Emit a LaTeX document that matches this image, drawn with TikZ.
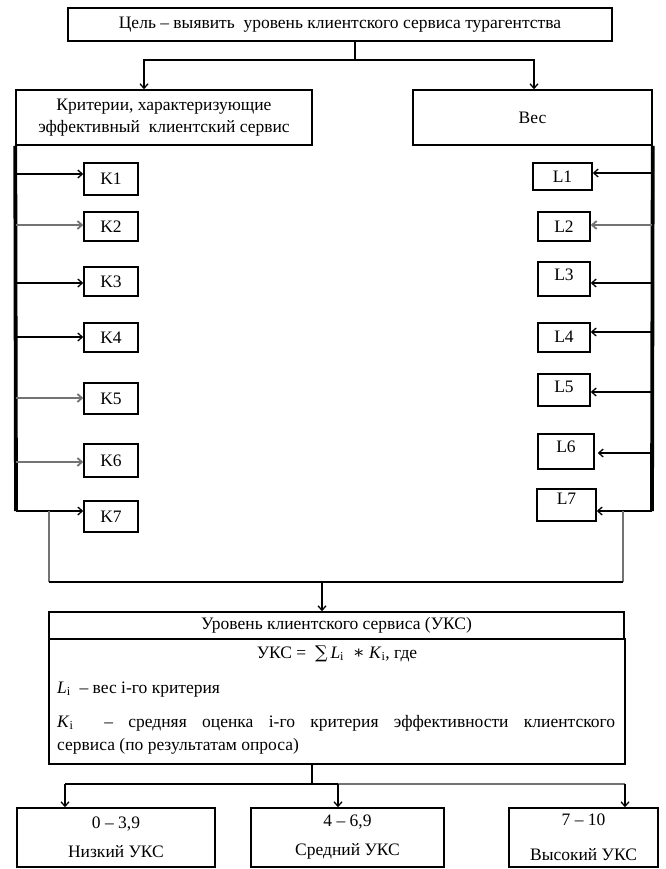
\documentclass[tikz,border=0pt]{standalone}
\usepackage{fontspec}
\setmainfont{Liberation Serif}
\newfontfamily\symf{DejaVu Serif}
\usetikzlibrary{arrows.meta}
\begin{document}
\begin{tikzpicture}[x=1pt,y=-1pt,
  font=\fontsize{17.5}{21}\selectfont,
  bx/.style={draw, line width=1.5pt, inner sep=0pt, align=center},
  sbx/.style={bx, text height=11.6pt, text depth=#1},
  sbx/.default=0pt,
  ln/.style={line width=1.3pt},
  gln/.style={line width=1.8pt, draw=black!55},
  arr/.style={ln, -{Straight Barb[length=4.5pt,width=8pt]}},
  garr/.style={gln, -{Straight Barb[length=4.5pt,width=8pt]}},
  thk/.style={line width=3.8pt}]
\useasboundingbox (0,0) rectangle (665,869);

% top
\node[bx, minimum width=544, minimum height=33] (goal) at (340,24.5) {Цель – выявить\ \ уровень клиентского сервиса турагентства};
\node[bx, minimum width=296, minimum height=55, font=\fontsize{17.5}{22}\selectfont] (crit) at (164,117.5) {Критерии, характеризующие\\эффективный\ \ клиентский сервис};
\node[bx, minimum width=239, minimum height=55] (wt) at (532.5,117.5) {Вес};

\coordinate (split) at (355,60);
\draw[ln] (goal.south -| split) -- (split);
\draw[arr] (split) -| ([xshift=-20pt]crit.north);
\draw[arr] (split) -| ([xshift=1.5pt]wt.north);

% thick rails
\coordinate (lbot) at (16,511);
\coordinate (rbot) at (652,511);
\draw[thk] (crit.south west) -- (lbot);
\draw[thk] (wt.south east) -- (rbot);

% K boxes
\node[sbx, minimum width=54, minimum height=32] (k1) at (111,179) {K1};
\node[sbx, minimum width=54, minimum height=29] (k2) at (111,226.5) {K2};
\node[sbx, minimum width=54, minimum height=29] (k3) at (111,281.5) {K3};
\node[sbx, minimum width=54, minimum height=29] (k4) at (111,337.5) {K4};
\node[sbx, minimum width=54, minimum height=31] (k5) at (111,398.5) {K5};
\node[sbx, minimum width=54, minimum height=33] (k6) at (111,460.5) {K6};
\node[sbx, minimum width=54, minimum height=31] (k7) at (111,516.5) {K7};

\coordinate (ka1) at (16,174);
\coordinate (ka2) at (16,225);
\coordinate (ka3) at (16,283);
\coordinate (ka4) at (16,337);
\coordinate (ka5) at (16,398);
\coordinate (ka6) at (16,462);
\draw[arr] (ka1) -- (ka1 -| k1.west);
\draw[garr] (ka2) -- (ka2 -| k2.west);
\draw[arr] (ka3) -- (ka3 -| k3.west);
\draw[arr] (ka4) -- (ka4 -| k4.west);
\draw[garr] (ka5) -- (ka5 -| k5.west);
\draw[garr] (ka6) -- (ka6 -| k6.west);
\draw[arr] (lbot) -- (lbot -| k7.west);

% L boxes
\node[sbx, minimum width=59, minimum height=27] (l1) at (562.5,176.5) {L1};
\node[sbx, minimum width=52, minimum height=29] (l2) at (564,226.5) {L2};
\node[sbx=8pt, minimum width=52, minimum height=34] (l3) at (564,279) {L3};
\node[sbx=2pt, minimum width=52, minimum height=29] (l4) at (564,337.5) {L4};
\node[sbx=6pt, minimum width=52, minimum height=32] (l5) at (564,390) {L5};
\node[sbx=9pt, minimum width=56, minimum height=35] (l6) at (566,451.5) {L6};
\node[sbx=12pt, minimum width=59, minimum height=32] (l7) at (566.5,505) {L7};

\coordinate (la1) at (652,173);
\coordinate (la2) at (652,225);
\coordinate (la3) at (652,283);
\coordinate (la4) at (652,332);
\coordinate (la5) at (652,392);
\coordinate (la6) at (652,453);
\draw[arr] (la1) -- (la1 -| l1.east);
\draw[garr] (la2) -- (la2 -| l2.east);
\draw[arr] (la3) -- (la3 -| l3.east);
\draw[arr] (la4) -- (la4 -| l4.east);
\draw[arr] (la5) -- (la5 -| l5.east);
\draw[arr, shorten >=3pt] (la6) -- (la6 -| l6.east);
\draw[arr] (rbot) -- (rbot -| l7.east);

% collector
\coordinate (lj) at (49,511);
\coordinate (rj) at (623,511);
\coordinate (mbl) at (49,582);
\coordinate (mbr) at (623,582);
\coordinate (mdrop) at (322,582);
\draw[gln] (lj) -- (mbl);
\draw[gln] (rj) -- (mbr);
\draw[ln] (mbl) -- (mbr);

% level box
\node[bx, minimum width=575, minimum height=27] (ukc) at (336.5,625.5) {Уровень клиентского сервиса (УКС)};
\node[bx, minimum width=576, minimum height=125] (fbox) at (337,701.5) {};
\draw[arr] (mdrop) -- (mdrop |- ukc.north);

\node[anchor=base] (f1) at (337,658) {УКС =\ \ {\symf ∑}\,\textit{L}\textsubscript{i}\ \ {\symf ∗}\ \textit{K}\textsubscript{i}, где};
\node[anchor=base west, inner sep=0pt] (f2) at (57,693) {\textit{L}\textsubscript{i}\ \ – вес i-го критерия};
\node[anchor=north west, inner sep=0pt, text width=558pt, align=justify, font=\fontsize{17.5}{23}\selectfont] (f3) at (57,715) {\textit{K}\textsubscript{i}\ \ – средняя оценка i-го критерия эффективности клиентского\linebreak сервиса (по результатам опроса)};

% outcomes
\node[bx, minimum width=198, minimum height=59, font=\fontsize{17.5}{29}\selectfont] (low) at (116,837.5) {0 – 3,9\\Низкий УКС};
\node[bx, minimum width=193, minimum height=59, font=\fontsize{17.5}{29}\selectfont] (mid) at (347.5,837.5) {4 – 6,9\\Средний УКС};
\node[bx, minimum width=149, minimum height=59, font=\fontsize{17.5}{35}\selectfont] (high) at (583.5,837.5) {7 – 10\\Высокий УКС};

\coordinate (bs) at (312,784);
\coordinate (bl) at (65,784);
\coordinate (bm) at (338,784);
\coordinate (br) at (625,784);
\draw[ln] (fbox.south -| bs) -- (bs);
\draw[ln] (bl) -- (bm);
\draw[gln] (bm) -- (br);
\draw[arr] (bl) -- (bl |- low.north);
\draw[arr] (bm) -- (bm |- mid.north);
\draw[arr] (br) -- (br |- high.north);
\end{tikzpicture}
\end{document}
